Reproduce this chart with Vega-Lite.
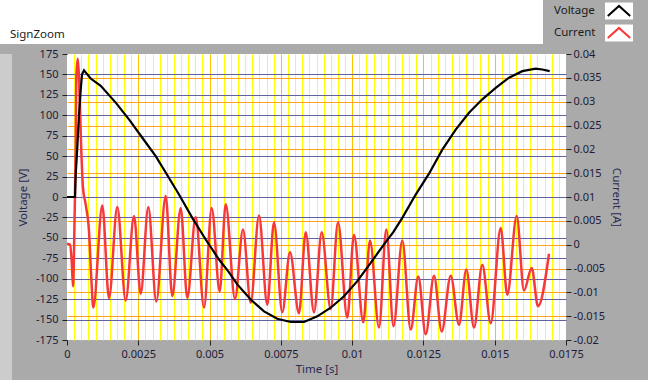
{
  "$schema": "https://vega.github.io/schema/vega-lite/v6.json",
  "background": "#aaaaaa",
  "padding": 0,
  "autosize": {"type": "pad"},
  "spacing": 4,
  "config": {
    "font": "Noto Sans",
    "view": {"stroke": null},
    "axis": {
      "labelFont": "Noto Sans", "labelFontSize": 11, "labelColor": "#1c1c38",
      "titleFont": "Noto Sans", "titleFontSize": 11.5, "titleFontWeight": "normal", "titleColor": "#2a2a52",
      "tickColor": "#202020", "domain": false, "tickSize": 5, "gridWidth": 1
    }
  },
  "datasets": {
    "voltage": [
      {"t": 0, "v": 0}, {"t": 0.000281, "v": 0}, {"t": 0.000305, "v": 27}, {"t": 0.000361, "v": 60},
      {"t": 0.000421, "v": 101}, {"t": 0.00048, "v": 131}, {"t": 0.000526, "v": 150}, {"t": 0.000596, "v": 155},
      {"t": 0.000712, "v": 150}, {"t": 0.000831, "v": 145}, {"t": 0.001182, "v": 136}, {"t": 0.001708, "v": 115.5},
      {"t": 0.002174, "v": 95}, {"t": 0.002641, "v": 72.5}, {"t": 0.003111, "v": 50}, {"t": 0.003461, "v": 30},
      {"t": 0.003928, "v": 3}, {"t": 0.004394, "v": -25.5}, {"t": 0.004864, "v": -52}, {"t": 0.005331, "v": -76.5},
      {"t": 0.005657, "v": -91}, {"t": 0.005972, "v": -107}, {"t": 0.006442, "v": -125.5}, {"t": 0.006909, "v": -140},
      {"t": 0.007375, "v": -149}, {"t": 0.007845, "v": -153}, {"t": 0.008312, "v": -153}, {"t": 0.008778, "v": -146},
      {"t": 0.009248, "v": -135.5}, {"t": 0.009714, "v": -121.5}, {"t": 0.010181, "v": -103}, {"t": 0.010651, "v": -80.5},
      {"t": 0.011117, "v": -58}, {"t": 0.011443, "v": -43}, {"t": 0.011759, "v": -25.5}, {"t": 0.012229, "v": 3},
      {"t": 0.012695, "v": 28.5}, {"t": 0.013162, "v": 58}, {"t": 0.013632, "v": 82.5}, {"t": 0.014098, "v": 103},
      {"t": 0.014565, "v": 119.5}, {"t": 0.015035, "v": 133.5}, {"t": 0.015501, "v": 146}, {"t": 0.015968, "v": 154},
      {"t": 0.016437, "v": 157}, {"t": 0.016669, "v": 156}, {"t": 0.016928, "v": 154}
    ],
    "current": [
      {"t": 0, "i": 0.0002}, {"t": 0.000105, "i": 0}, {"t": 0.000165, "i": -0.0035}, {"t": 0.00021, "i": -0.0087},
      {"t": 0.00027, "i": 0.007}, {"t": 0.000305, "i": 0.021}, {"t": 0.000326, "i": 0.035}, {"t": 0.000375, "i": 0.039},
      {"t": 0.000421, "i": 0.035}, {"t": 0.000456, "i": 0.028}, {"t": 0.000502, "i": 0.0196}, {"t": 0.000561, "i": 0.0119},
      {"t": 0.000656, "i": 0.0084}, {"t": 0.000772, "i": 0.0028}, {"t": 0.000852, "i": -0.007}, {"t": 0.000922, "i": -0.0132},
      {"t": 0.001238, "i": 0.0082}, {"t": 0.001473, "i": -0.0112}, {"t": 0.001764, "i": 0.0079}, {"t": 0.002059, "i": -0.0117},
      {"t": 0.00235, "i": 0.006}, {"t": 0.002585, "i": -0.0103}, {"t": 0.002851, "i": 0.0079}, {"t": 0.003132, "i": -0.0119},
      {"t": 0.003461, "i": 0.0102}, {"t": 0.003693, "i": -0.0108}, {"t": 0.003987, "i": 0.0077}, {"t": 0.004219, "i": -0.0112},
      {"t": 0.004513, "i": 0.0058}, {"t": 0.004805, "i": -0.0132}, {"t": 0.005075, "i": 0.0077}, {"t": 0.005355, "i": -0.0098},
      {"t": 0.005566, "i": 0.0085}, {"t": 0.005892, "i": -0.0114}, {"t": 0.006172, "i": 0.0032}, {"t": 0.006442, "i": -0.0122},
      {"t": 0.006733, "i": 0.0061}, {"t": 0.007024, "i": -0.0126}, {"t": 0.00726, "i": 0.0047}, {"t": 0.00755, "i": -0.0142},
      {"t": 0.00782, "i": -0.0016}, {"t": 0.008136, "i": -0.0144}, {"t": 0.008371, "i": 0.0026}, {"t": 0.008662, "i": -0.0142},
      {"t": 0.008932, "i": 0.0026}, {"t": 0.009248, "i": -0.0135}, {"t": 0.009504, "i": 0.0047}, {"t": 0.00983, "i": -0.0153},
      {"t": 0.010065, "i": 0.0021}, {"t": 0.010391, "i": -0.0163}, {"t": 0.010626, "i": 0.0009}, {"t": 0.010942, "i": -0.0174},
      {"t": 0.011198, "i": 0.0032}, {"t": 0.01145, "i": -0.0171}, {"t": 0.011759, "i": 0.0009}, {"t": 0.012054, "i": -0.0178},
      {"t": 0.01232, "i": -0.0067}, {"t": 0.01258, "i": -0.0188}, {"t": 0.012871, "i": -0.0065}, {"t": 0.013141, "i": -0.0182},
      {"t": 0.013457, "i": -0.0065}, {"t": 0.013748, "i": -0.0168}, {"t": 0.014004, "i": -0.0052}, {"t": 0.014274, "i": -0.0174},
      {"t": 0.014565, "i": -0.0042}, {"t": 0.01486, "i": -0.0165}, {"t": 0.01521, "i": 0.0035}, {"t": 0.015441, "i": -0.0105},
      {"t": 0.015771, "i": 0.006}, {"t": 0.016027, "i": -0.0096}, {"t": 0.016297, "i": -0.0049}, {"t": 0.016518, "i": -0.0129},
      {"t": 0.016904, "i": -0.0019}
    ],
    "legend": [{"series": "Voltage"}, {"series": "Current"}],
    "label": [{"name": "SignZoom"}]
  },
  "vconcat": [
    {
      "spacing": 0,
      "hconcat": [
        {
          "width": 543, "height": 44,
          "view": {"fill": "white", "stroke": null},
          "data": {"name": "label"},
          "mark": {"type": "text", "align": "left", "baseline": "alphabetic", "dx": 10, "dy": -6, "font": "Noto Sans", "fontSize": 11.5, "color": "#1a1a1a"},
          "encoding": {
            "x": {"field": "name", "type": "nominal", "axis": null, "scale": {"type": "point", "padding": 0, "align": 0}},
            "y": {"field": "name", "type": "nominal", "axis": null, "scale": {"type": "point", "padding": 0, "align": 1}},
            "text": {"field": "name"}
          }
        },
        {
          "width": 105, "height": 44,
          "view": {"fill": "#aaaaaa", "stroke": null},
          "data": {"name": "legend"},
          "encoding": {
            "y": {"field": "series", "type": "nominal", "sort": ["Voltage", "Current"], "axis": null, "scale": {"type": "point", "padding": 0.5}}
          },
          "layer": [
            {
              "mark": {"type": "text", "align": "left", "baseline": "middle", "font": "Noto Sans", "fontSize": 11.5, "color": "#1a1a1a"},
              "encoding": {
                "x": {"datum": "label", "type": "nominal", "axis": null, "scale": {"type": "point", "domain": ["label", "swatch"], "range": [11, 76], "padding": 0}},
                "text": {"field": "series"}
              }
            },
            {
              "mark": {"type": "point", "shape": "M-1,-0.607H1V0.607H-1Z", "filled": true, "fill": "white", "strokeWidth": 0, "size": 784, "opacity": 1},
              "encoding": {"x": {"datum": "swatch", "type": "nominal"}}
            },
            {
              "mark": {"type": "point", "shape": "M-0.8,0.36L0,-0.36L0.8,0.36", "filled": false, "strokeWidth": 2, "size": 784, "opacity": 1},
              "encoding": {
                "x": {"datum": "swatch", "type": "nominal"},
                "color": {"field": "series", "type": "nominal", "scale": {"domain": ["Voltage", "Current"], "range": ["#000000", "#f73838"]}, "legend": null}
              }
            }
          ]
        }
      ]
    },
    {
      "spacing": 5,
      "hconcat": [
        {
          "width": 12, "height": 332,
          "view": {"fill": "#cccccc", "stroke": null},
          "data": {"values": []},
          "mark": "point"
        },
        {
          "width": 499, "height": 286,
          "view": {"fill": "white", "stroke": null},
          "encoding": {
            "x": {
              "field": "t", "type": "quantitative",
              "scale": {"domain": [0, 0.0175], "nice": false, "zero": false},
              "axis": {
                "title": "Time [s]",
                "values": [0,0.00025,0.0005,0.00075,0.001,0.00125,0.0015,0.00175,0.002,0.00225,0.0025,0.00275,0.003,0.00325,0.0035,0.00375,0.004,0.00425,0.0045,0.00475,0.005,0.00525,0.0055,0.00575,0.006,0.00625,0.0065,0.00675,0.007,0.00725,0.0075,0.00775,0.008,0.00825,0.0085,0.00875,0.009,0.00925,0.0095,0.00975,0.01,0.01025,0.0105,0.01075,0.011,0.01125,0.0115,0.01175,0.012,0.01225,0.0125,0.01275,0.013,0.01325,0.0135,0.01375,0.014,0.01425,0.0145,0.01475,0.015,0.01525,0.0155,0.01575,0.016,0.01625,0.0165,0.01675,0.017,0.01725,0.0175],
                "grid": true,
                "gridColor": {"condition": {"test": "abs(datum.value*400 - round(datum.value*400)) < 0.01", "value": "#ffc000"}, "value": "#ffff00"},
                "gridOpacity": {"condition": {"test": "datum.value < 0.0000001 || datum.value > 0.01749", "value": 0}, "value": 1},
                "tickOpacity": {"condition": {"test": "abs(datum.value*400 - round(datum.value*400)) < 0.01", "value": 1}, "value": 0},
                "labelExpr": "abs(datum.value*400 - round(datum.value*400)) < 0.01 ? toString(round(datum.value*10000)/10000) : ''",
                "labelFlush": false, "labelOverlap": false, "labelPadding": 3, "titlePadding": 4
              }
            }
          },
          "layer": [
            {
              "data": {"name": "current"},
              "mark": {"type": "line", "color": "#f73838", "strokeWidth": 2.5, "interpolate": "monotone"},
              "encoding": {
                "y": {
                  "field": "i", "type": "quantitative",
                  "scale": {"domain": [-0.02, 0.04], "nice": false, "zero": false},
                  "axis": {
                    "orient": "right", "title": "Current [A]",
                    "values": [-0.02,-0.015,-0.01,-0.005,0,0.005,0.01,0.015,0.02,0.025,0.03,0.035,0.04],
                    "grid": true, "gridColor": "#ffa020",
                    "gridOpacity": {"condition": {"test": "datum.value < -0.0199 || datum.value > 0.0399", "value": 0}, "value": 1},
                    "labelExpr": "toString(round(datum.value*1000)/1000)",
                    "labelPadding": 2, "titlePadding": 6
                  }
                }
              }
            },
            {
              "data": {"name": "voltage"},
              "mark": {"type": "line", "color": "#000000", "strokeWidth": 2.2},
              "encoding": {
                "y": {
                  "field": "v", "type": "quantitative",
                  "scale": {"domain": [-175, 175], "nice": false, "zero": false},
                  "axis": {
                    "orient": "left", "title": "Voltage [V]",
                    "values": [-175,-150,-125,-100,-75,-50,-25,0,25,50,75,100,125,150,175],
                    "grid": true, "gridColor": "#6262a0",
                    "gridOpacity": {"condition": {"test": "abs(datum.value) > 170", "value": 0}, "value": 1},
                    "labelExpr": "toString(datum.value)",
                    "labelPadding": 4, "titlePadding": 7
                  }
                }
              }
            }
          ],
          "resolve": {"scale": {"y": "independent"}}
        }
      ]
    }
  ]
}
